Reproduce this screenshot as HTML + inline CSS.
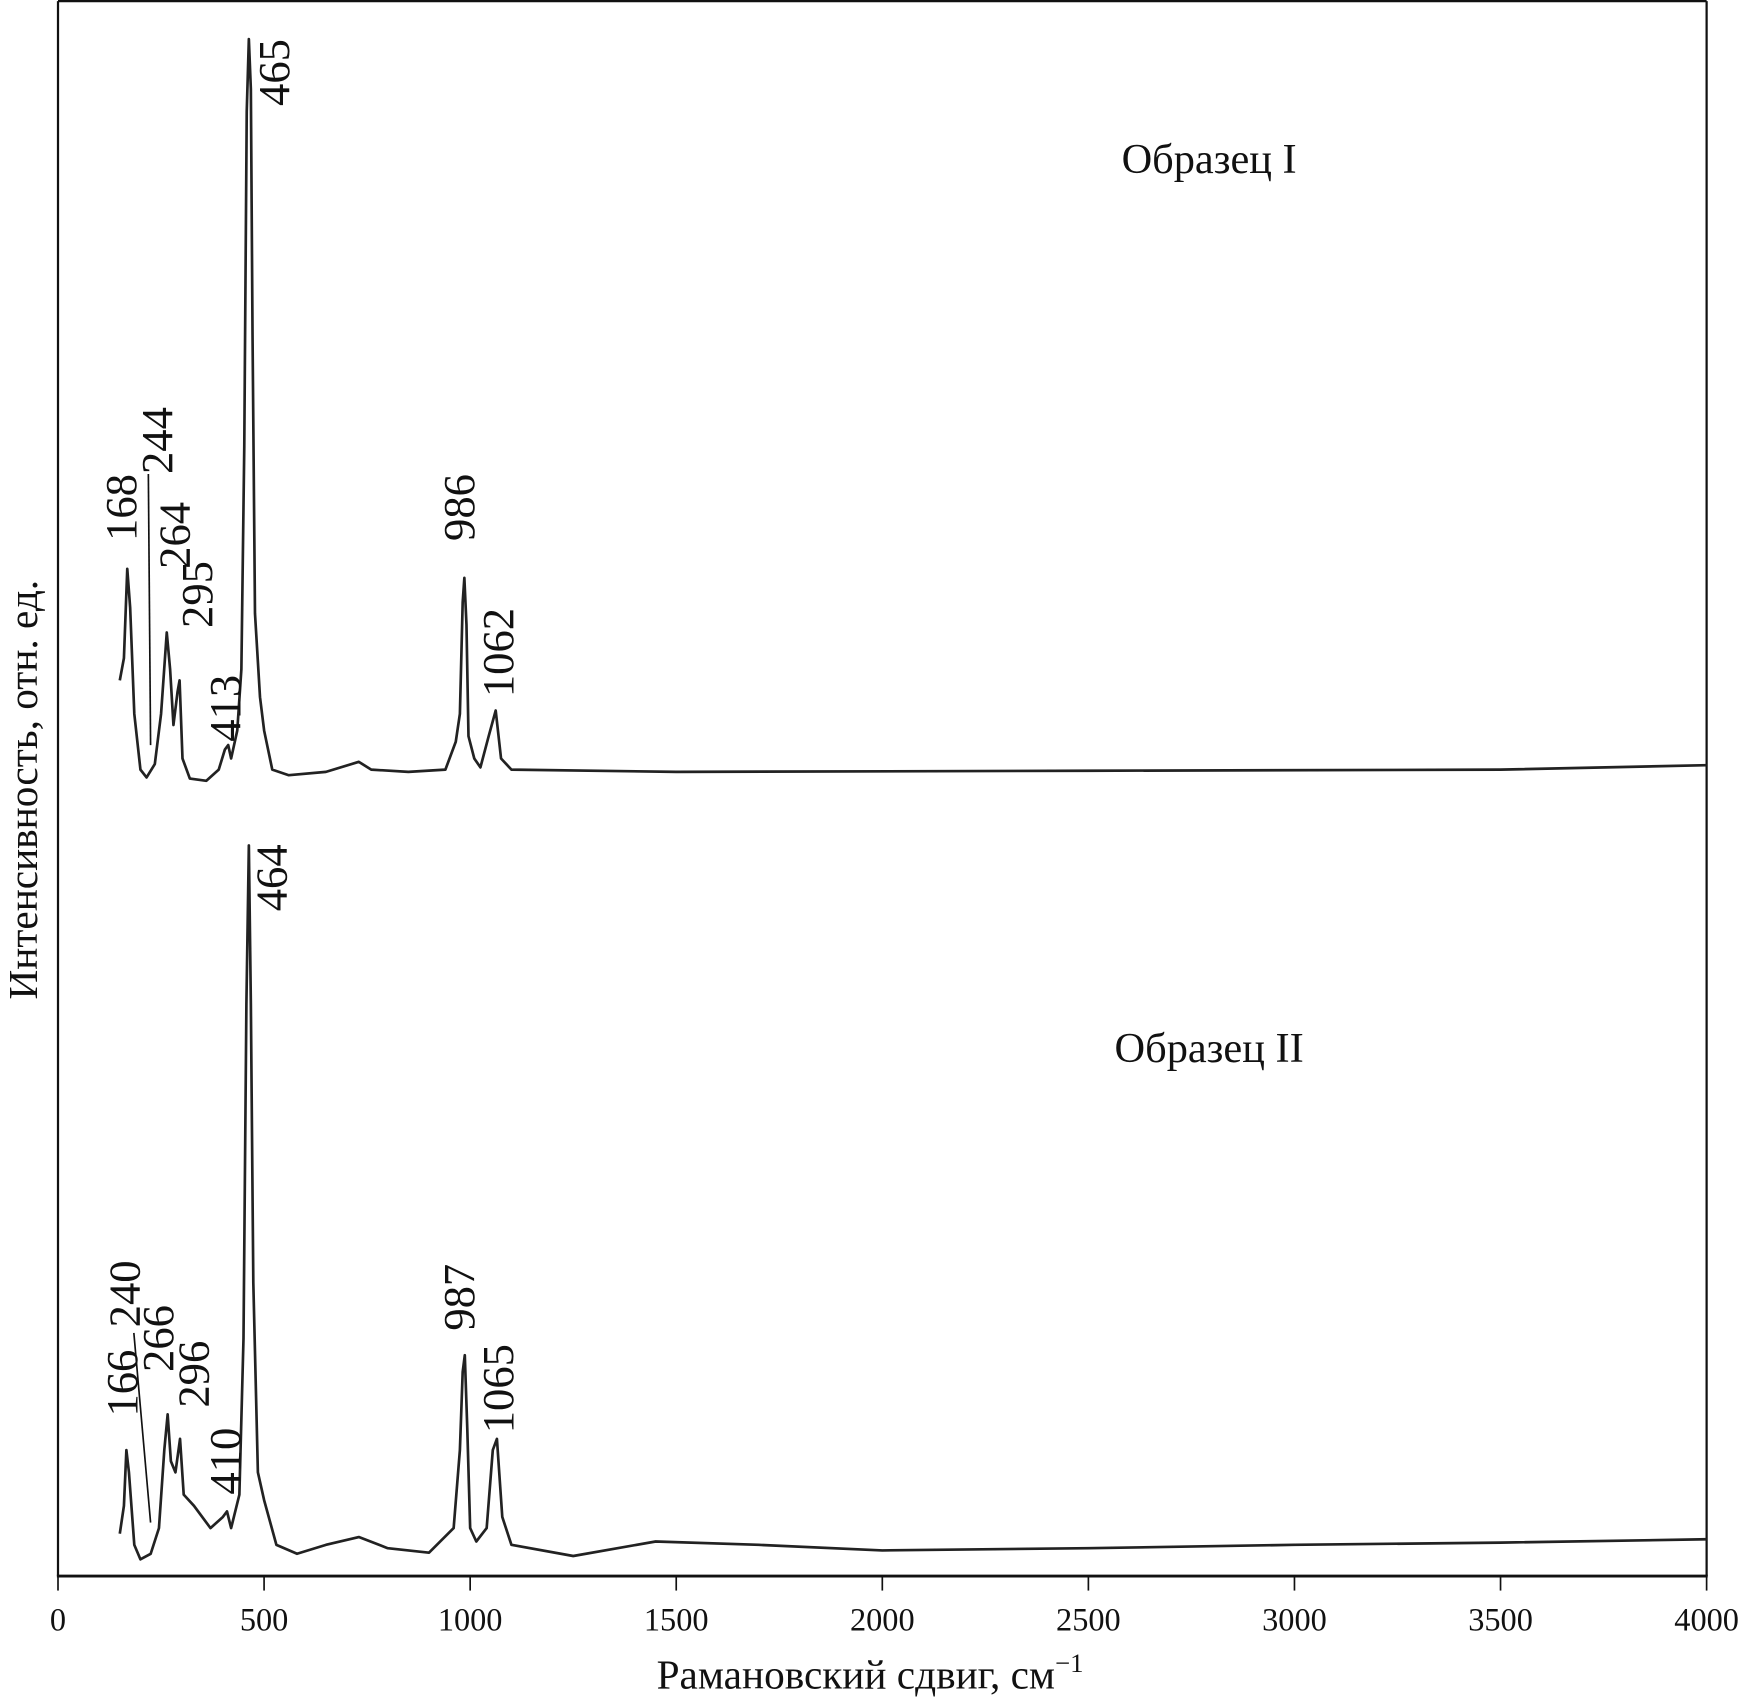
<!DOCTYPE html>
<html><head><meta charset="utf-8"><style>
html,body{margin:0;padding:0;background:#fff}
svg{display:block}
text{font-family:"Liberation Serif",serif;fill:#111}
</style></head><body>
<svg id="chart" width="1749" height="1701" viewBox="0 0 1568 1525" preserveAspectRatio="none" xmlns="http://www.w3.org/2000/svg">
<g id="frame">
<line x1="52" y1="1" x2="1530" y2="1" stroke="#111" stroke-width="2"/>
<line x1="52" y1="1" x2="52" y2="1413" stroke="#111" stroke-width="2"/>
<line x1="1530" y1="1" x2="1530" y2="1413" stroke="#111" stroke-width="2"/>
<line x1="51" y1="1413" x2="1531" y2="1413" stroke="#111" stroke-width="2.5"/>
</g>
<g id="ticks"></g>
<g id="series"></g>
<g id="ann"></g>
<text x="780" y="1514" text-anchor="middle" font-size="37">Рамановский сдвиг, см<tspan font-size="24" dy="-15">−1</tspan></text>
<text transform="translate(33,708) rotate(-90)" text-anchor="middle" font-size="37">Интенсивность, отн. ед.</text>
<text x="1084" y="155" text-anchor="middle" font-size="38">Образец I</text>
<text x="1084" y="952" text-anchor="middle" font-size="38">Образец II</text>
</svg>
<script>
const tickValues=[0,500,1000,1500,2000,2500,3000,3500,4000];
const s1x=[150,160,168,175,185,200,215,235,250,264,272,280,290,295,302,320,360,390,405,413,420,435,445,452,458,463,468,472,478,490,500,520,560,650,730,760,850,940,965,975,982,986,991,996,1010,1025,1045,1062,1075,1100,1500,2500,3500,4000];
const s1y=[803,823,903,868,773,723,716,728,773,846,813,763,793,803,733,715,713,723,741,745,733,758,813,1013,1313,1378,1333,1113,863,788,758,723,718,721,730,723,721,723,748,773,873,895,853,753,733,725,753,776,733,723,721,722,723,727];
const s2x=[150,160,166,172,185,200,225,245,258,266,274,285,296,305,330,370,400,410,420,440,450,457,463,468,474,485,500,530,580,650,730,800,900,960,975,982,987,993,1000,1015,1040,1055,1065,1078,1100,1250,1450,1700,2000,2500,3000,3500,4000];
const s2y=[38,63,113,93,28,15,20,43,113,145,103,93,123,73,63,43,53,58,43,73,213,513,655,513,263,93,68,28,20,28,35,25,21,43,113,183,198,133,43,31,43,113,123,53,28,18,31,28,23,25,28,30,33];
const annText=["465","168","244","264","295","413","986","1062","464","240","166","266","296","410","987","1065"];
const annX=[465,150,240,280,330,400,960,1060,460,160,150,240,320,400,960,1060];
const NS='http://www.w3.org/2000/svg';
const X0=52,X1=1530,YB=1413;
function xs(v){return X0+v/4000*(X1-X0);}
function ys(v){return YB-v;}
const tg=document.getElementById('ticks');
tickValues.forEach(v=>{
 const l=document.createElementNS(NS,'line');
 
 
 l.setAttribute('x1',xs(v));l.setAttribute('x2',xs(v));l.setAttribute('y1',YB);l.setAttribute('y2',YB+13);
 l.setAttribute('stroke','#111');l.setAttribute('stroke-width','1.5');tg.appendChild(l);
 const t=document.createElementNS(NS,'text');
 
 
 t.setAttribute('x',xs(v));t.setAttribute('y',1462);t.setAttribute('text-anchor','middle');t.setAttribute('font-size','29');
 t.textContent=v;tg.appendChild(t);
});
const sg=document.getElementById('series');
function line(xa,ya,name){
 const p=document.createElementNS(NS,'path');
 
 
 p.setAttribute('d',xa.map((v,i)=>(i?'L':'M')+xs(v).toFixed(1)+' '+ys(ya[i]).toFixed(1)).join(' '));
 p.setAttribute('fill','none');p.setAttribute('stroke','#222');p.setAttribute('stroke-width','2.4');p.setAttribute('stroke-linejoin','round');
 sg.appendChild(p);
}
line(s1x,s1y,'spectrum-sample-1');
line(s2x,s2y,'spectrum-sample-2');
const annPos=[[245,65],[108,455],[140,395],[156,480],[176,533],[201,635],[411,455],[446,585],[243,787],[111,1160],[109,1240],[141,1200],[173,1232],[201,1310],[411,1163],[446,1245]];
const ag=document.getElementById('ann');
annText.forEach((s,i)=>{
 const t=document.createElementNS(NS,'text');
 
 
 t.setAttribute('transform','translate('+(annPos[i][0]+14)+','+annPos[i][1]+') rotate(-90)');
 t.setAttribute('text-anchor','middle');t.setAttribute('font-size','40');
 t.textContent=s;ag.appendChild(t);
});
[[133,425,135,668],[120,1195,135,1365]].forEach(c=>{
 const l=document.createElementNS(NS,'line');
 
 
 l.setAttribute('x1',c[0]);l.setAttribute('y1',c[1]);l.setAttribute('x2',c[2]);l.setAttribute('y2',c[3]);
 l.setAttribute('stroke','#111');l.setAttribute('stroke-width','1.5');ag.appendChild(l);
});
</script>
</body></html>
